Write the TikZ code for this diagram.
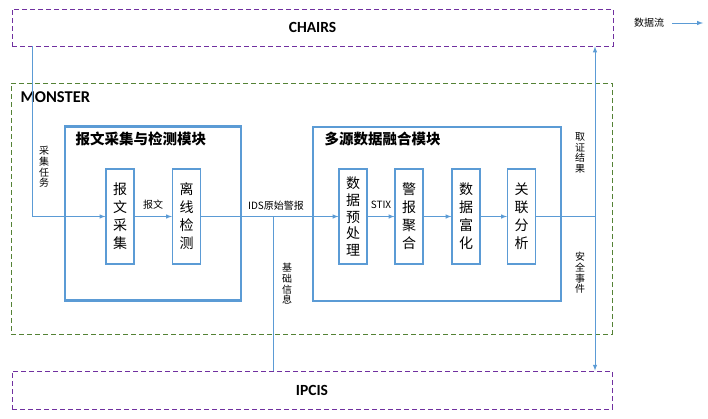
\documentclass[tikz,border=0pt]{standalone}
\usepackage{fontspec}
\setmainfont{Carlito}
\newfontfamily\cjk{Noto Sans CJK SC}
\usetikzlibrary{arrows}
\definecolor{flowblue}{HTML}{5B9BD5}
\definecolor{regpurple}{HTML}{7030A0}
\definecolor{reggreen}{HTML}{548235}

\begin{document}
\begin{tikzpicture}[x=1pt,y=-1pt,>=latex,
  region/.style={draw,dash pattern=on 5pt off 3pt,line width=0.9pt,inner sep=0pt,font=\bfseries\fontsize{15.5}{18}\selectfont},
  module/.style={draw=flowblue,line width=2.6pt,minimum width=#1,minimum height=174pt},
  stage/.style={draw=flowblue,line width=1.2pt,minimum width=28pt,minimum height=95pt,inner sep=0pt,align=center,font=\cjk\fontsize{14}{18}\selectfont},
  flow/.style={draw=flowblue,line width=1pt},
  tag/.style={font=\cjk\fontsize{10}{10.6}\selectfont,align=center,inner sep=0pt}]
  \useasboundingbox (0,0) rectangle (708,418);
  % outer systems
  \node[region,draw=regpurple,minimum width=601pt,minimum height=37pt] (chairs) at (312.5,27.5) {CHAIRS};
  \node[region,draw=reggreen,minimum width=601pt,minimum height=251pt] (monster) at (311.5,208.5) {};
  \node[anchor=west,font=\bfseries\fontsize{16.5}{18}\selectfont] (monlabel) at (17,97) {MONSTER};
  \node[region,draw=regpurple,minimum width=600pt,minimum height=38pt] (ipcis) at (312,390) {IPCIS};
  % modules
  \node[module=176pt] (collect) at (153,213.5) {};
  \node[anchor=west,font=\cjk\bfseries\fontsize{14.5}{17}\selectfont] (collecttitle) at (72,139) {报文采集与检测模块};
  \node[module=248pt] (fusion) at (437,214) {};
  \node[anchor=west,font=\cjk\bfseries\fontsize{14.5}{17}\selectfont] (fusiontitle) at (321,139) {多源数据融合模块};
  % stages
  \node[stage] (capture) at (120,216.5) {报\\文\\采\\集};
  \node[stage] (detect) at (186.5,216.5) {离\\线\\检\\测};
  \node[stage,font=\cjk\fontsize{14}{16.8}\selectfont] (prep) at (353,216.5) {数\\据\\预\\处\\理};
  \node[stage] (aggr) at (409,216.5) {警\\报\\聚\\合};
  \node[stage] (enrich) at (466,216.5) {数\\据\\富\\化};
  \node[stage] (corr) at (521.5,216.5) {关\\联\\分\\析};
  % data flow
  \coordinate (taskx) at (32,0);
  \draw[flow,->] (chairs.south -| taskx) |- (capture.west);
  \draw[flow,->] (capture) -- (detect);
  \draw[flow,->] (detect) -- (prep);
  \draw[flow,->] (prep) -- (aggr);
  \draw[flow,->] (aggr) -- (enrich);
  \draw[flow,->] (enrich) -- (corr);
  \coordinate (infox) at (273,0);
  \draw[flow] (detect.east -| infox) -- (infox |- ipcis.north);
  \coordinate (outx) at (595,0);
  \draw[flow] (corr.east) -- (corr.east -| outx) coordinate (out);
  \draw[flow,->] (out) -- (out |- chairs.south);
  \draw[flow,->] (out) -- (out |- ipcis.north);
  % labels
  \node[tag] (tasklabel) at (44,167) {采\\集\\任\\务};
  \node[tag] (pktlabel) at (153,205) {报文};
  \node[tag] (idslabel) at (276,206) {IDS原始警报};
  \node[tag] (stixlabel) at (381,205) {STIX};
  \node[tag] (infolabel) at (287,284) {基\\础\\信\\息};
  \node[tag] (evidlabel) at (580,153) {取\\证\\结\\果};
  \node[tag] (eventlabel) at (580,273) {安\\全\\事\\件};
  % legend
  \node[tag] (legend) at (649,23) {数据流};
  \coordinate (legstart) at (672,23);
  \coordinate (legtip) at (703,23);
  \draw[flow,->] (legstart) -- (legtip);
\end{tikzpicture}
\end{document}
